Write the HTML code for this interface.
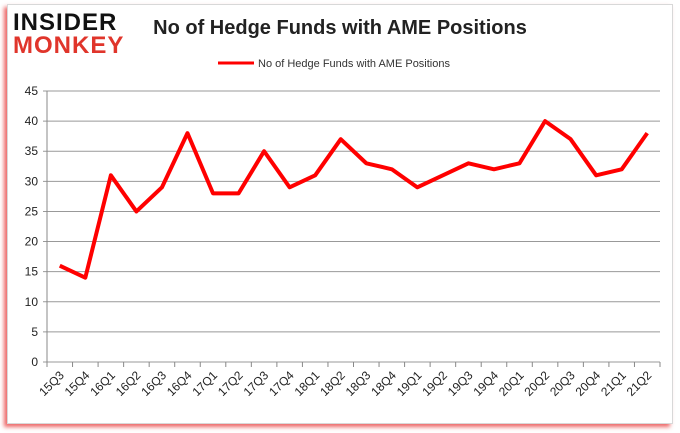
<!DOCTYPE html>
<html><head><meta charset="utf-8"><style>
body{margin:0;width:680px;height:433px;background:#fff;overflow:hidden;font-family:"Liberation Sans",sans-serif}
#frame{position:absolute;left:7px;top:4px;width:664px;height:418px;border:1px solid #d8d8d8;box-shadow:-3px 3px 4px rgba(230,40,40,.7);background:#fff}
</style></head><body>
<div id="frame"></div>
<svg width="680" height="433" style="position:absolute;left:0;top:0" id="chart">
<text x="13" y="30" font-size="24" font-weight="bold" fill="#111" font-family="Liberation Sans,sans-serif" letter-spacing="1">INSIDER</text>
<text x="13" y="53" font-size="24" font-weight="bold" fill="#e0352b" font-family="Liberation Sans,sans-serif" letter-spacing="1">MONKEY</text>
<text x="340" y="34" font-size="20" font-weight="bold" text-anchor="middle" fill="#222">No of Hedge Funds with AME Positions</text>
<line x1="218" y1="63" x2="254" y2="63" stroke="#f00" stroke-width="3"/>
<text x="258" y="67" font-size="11" fill="#333">No of Hedge Funds with AME Positions</text>
<g id="grid"></g><g id="xl"></g>
<polyline id="line" fill="none" stroke="#f00" stroke-width="4" stroke-linejoin="round"/>
</svg>
<script>
const categories=["15Q3","15Q4","16Q1","16Q2","16Q3","16Q4","17Q1","17Q2","17Q3","17Q4","18Q1","18Q2","18Q3","18Q4","19Q1","19Q2","19Q3","19Q4","20Q1","20Q2","20Q3","20Q4","21Q1","21Q2"];
const values=[16,14,31,25,29,38,28,28,35,29,31,37,33,32,29,31,33,32,33,40,37,31,32,38];
const yTicks=[0,5,10,15,20,25,30,35,40,45];
const L=47,R=660,T=91,B=362,NS="http://www.w3.org/2000/svg";
const bw=(R-L)/categories.length;
const xs=i=>L+bw*(i+0.5), ys=v=>B-(v/45)*(B-T);
const g=document.getElementById('grid'),xl=document.getElementById('xl');
function mk(p,tag,a){const e=document.createElementNS(NS,tag);for(const k in a)e.setAttribute(k,a[k]);p.appendChild(e);return e;}
yTicks.forEach(v=>{const y=ys(v);
 const l=mk(g,'line',{x1:L-4,x2:R,y1:y,y2:y,stroke:'#999','stroke-width':1});
 
 
 const t=mk(g,'text',{x:L-9,y:y+4,'font-size':12,'text-anchor':'end',fill:'#222'});t.textContent=v;
 
 });
const ax=mk(g,'line',{x1:L,x2:L,y1:T,y2:B,stroke:'#888'});


for(let i=0;i<=categories.length;i++){const x=L+bw*i;mk(g,'line',{x1:x,x2:x,y1:B,y2:B+5,stroke:'#888'});}
categories.forEach((c,i)=>{const x=xs(i);
 const t=mk(xl,'text',{x:x+5,y:B+14,'font-size':12,'text-anchor':'end',fill:'#222',transform:`rotate(-45 ${x+5} ${B+14})`});t.textContent=c;
 
 });
document.getElementById('line').setAttribute('points',values.map((v,i)=>xs(i)+','+ys(v)).join(' '));
</script>
</body></html>
